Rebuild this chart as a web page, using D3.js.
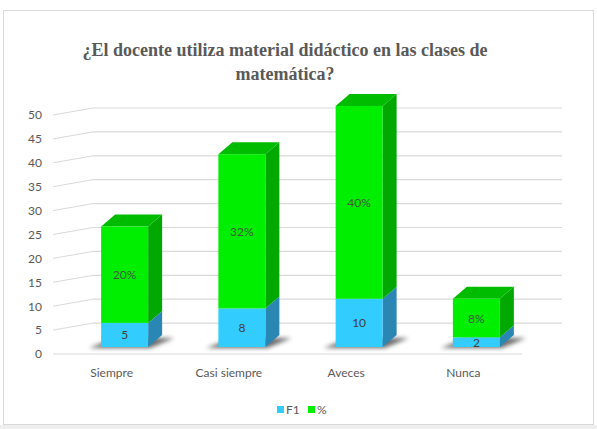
<!DOCTYPE html>
<html>
<head>
<meta charset="utf-8">
<script src="https://cdn.jsdelivr.net/npm/d3@7"></script>
<style>
  body { margin: 0; background: #ffffff; }
  svg { display: block; }
</style>
</head>
<body>
<svg id="chart" width="597" height="429"></svg>
<script>
var categories = ["Siempre", "Casi siempre", "Aveces", "Nunca"];
var f1Values = [5, 8, 10, 2];
var pctValues = [20, 32, 40, 8];
var yTicks = [0, 5, 10, 15, 20, 25, 30, 35, 40, 45, 50];
var seriesNames = ["F1", "%"];

var font = "Lato, 'Open Sans', sans-serif";
var gridColor = "#d9d9d9";
var textColor = "#595959";

var svg = d3.select("#chart");

// background + border
svg.append("rect").attr("x", 0).attr("y", 0).attr("width", 597).attr("height", 429).attr("fill", "#ffffff");
svg.append("rect").attr("x", 0).attr("y", 425).attr("width", 597).attr("height", 4).attr("fill", "#efefef");
svg.append("rect")
    .attr("x", 3.5).attr("y", 10.5)
    .attr("width", 590).attr("height", 414)
    .attr("fill", "none")
    .attr("stroke", "#d9d9d9");

// title
var title = svg.append("text")
    .attr("text-anchor", "middle")
    .attr("font-family", "'Liberation Serif', 'Times New Roman', serif")
    .attr("font-weight", "bold")
    .attr("font-size", 18)
    .attr("fill", textColor);
title.append("tspan").attr("x", 285).attr("y", 56).text("¿El docente utiliza material didáctico en las clases de");
title.append("tspan").attr("x", 285).attr("y", 80).text("matemática?");

// scales
var x = d3.scaleBand().domain(categories).range([53, 522]);
var yFront = d3.scaleLinear().domain([0, 50]).range([354, 115]);
var yBack = d3.scaleLinear().domain([0, 50]).range([347, 108]);
var yBar = d3.scaleLinear().domain([0, 50]).range([347, 106]);

var wallDx = 40;
var depthDx = 14, depthDy = -12;
var barW = 47, barShift = 13;

// grid (back wall + diagonal side wall)
var grid = svg.append("g");
yTicks.forEach(function(v){
    if (v == 0) {
        grid.append("line")
            .attr("x1", 53).attr("y1", yFront(0))
            .attr("x2", 522).attr("y2", yFront(0))
            .attr("stroke", gridColor).attr("stroke-width", 1);
        return;
    }
    grid.append("line")
        .attr("x1", 53).attr("y1", yFront(v))
        .attr("x2", 53 + wallDx).attr("y2", yBack(v))
        .attr("stroke", gridColor).attr("stroke-width", 1);
    grid.append("line")
        .attr("x1", 53 + wallDx).attr("y1", yBack(v))
        .attr("x2", 562).attr("y2", yBack(v))
        .attr("stroke", gridColor).attr("stroke-width", 1.2);
});

// y axis labels
var yAxis = d3.axisLeft(yFront).tickValues(yTicks).tickSize(0).tickPadding(0);
var yg = svg.append("g").attr("transform", "translate(42,0)").call(yAxis);
yg.select(".domain").remove();
yg.selectAll("text")
    .attr("font-family", font)
    .attr("font-size", 12)
    .attr("fill", textColor);

// x axis labels
var xAxis = d3.axisBottom(x).tickSize(0).tickPadding(0);
var xg = svg.append("g").attr("transform", "translate(0,368)").call(xAxis);
xg.select(".domain").remove();
xg.selectAll("text")
    .attr("font-family", font)
    .attr("font-size", 12)
    .attr("fill", textColor);

// shadow filter
var defs = svg.append("defs");
defs.append("filter").attr("id", "blur")
    .attr("x", "-50%").attr("y", "-50%").attr("width", "200%").attr("height", "200%")
    .append("feGaussianBlur").attr("stdDeviation", 2);

var data = categories.map(function(c, i){
    return { cat: c, f1: f1Values[i], pct: pctValues[i] };
});

function barX(d){ return x(d.cat) + x.bandwidth() / 2 + barShift - barW / 2; }

// shadows
svg.append("g").selectAll("polygon.shadow")
    .data(data)
    .enter()
    .append("polygon")
    .attr("class", "shadow")
    .attr("points", function(d){
        var x0 = barX(d), x1 = x0 + barW, yb = yBar(0);
        return [[x0 - 12, yb + 1], [x1 + 2, yb + 1], [x1 + depthDx + 12, yb + depthDy + 3], [x0 + depthDx, yb + depthDy + 3]].join(" ");
    })
    .attr("fill", "#3a3a3a")
    .attr("opacity", 0.75)
    .attr("filter", "url(#blur)");

// draws one 3D segment
function drawSegment(g, x0, v0, v1, front, side, top, showTop){
    var yTop = yBar(v1), yBot = yBar(v0);
    g.append("polygon")
        .attr("points", [[x0 + barW, yBot], [x0 + barW + depthDx, yBot + depthDy], [x0 + barW + depthDx, yTop + depthDy], [x0 + barW, yTop]].join(" "))
        .attr("fill", side);
    if (showTop) {
        g.append("polygon")
            .attr("points", [[x0, yTop], [x0 + depthDx, yTop + depthDy], [x0 + barW + depthDx, yTop + depthDy], [x0 + barW, yTop]].join(" "))
            .attr("fill", top);
    }
    g.append("rect")
        .attr("x", x0).attr("y", yTop)
        .attr("width", barW).attr("height", yBot - yTop)
        .attr("fill", front);
}

var bars = svg.append("g");
data.forEach(function(d){
    var g = bars.append("g");
    var x0 = barX(d);
    drawSegment(g, x0, 0, d.f1, "#33ccff", "#2a87b4", "#2a9fd0", false);
    drawSegment(g, x0, d.f1, d.f1 + d.pct, "#00ee00", "#00a800", "#00bc00", true);

    g.append("text")
        .attr("x", x0 + barW / 2)
        .attr("y", (yBar(0) + yBar(d.f1)) / 2 + 4.5)
        .attr("text-anchor", "middle")
        .attr("font-family", font)
        .attr("font-size", 12)
        .attr("fill", "#404040")
        .text(d.f1);
    g.append("text")
        .attr("x", x0 + barW / 2)
        .attr("y", (yBar(d.f1) + yBar(d.f1 + d.pct)) / 2 + 4.5)
        .attr("text-anchor", "middle")
        .attr("font-family", font)
        .attr("font-size", 12)
        .attr("fill", "#3b5a3b")
        .text(d.pct + "%");
});

// legend
var legendColors = ["#33ccff", "#00ee00"];
var legendX = [277, 308];
var legend = svg.append("g");
seriesNames.forEach(function(s, i){
    legend.append("rect")
        .attr("x", legendX[i]).attr("y", 406)
        .attr("width", 7).attr("height", 7)
        .attr("fill", legendColors[i]);
    legend.append("text")
        .attr("x", legendX[i] + 9).attr("y", 414)
        .attr("font-family", font)
        .attr("font-size", 12)
        .attr("fill", textColor)
        .text(s);
});
</script>
</body>
</html>
